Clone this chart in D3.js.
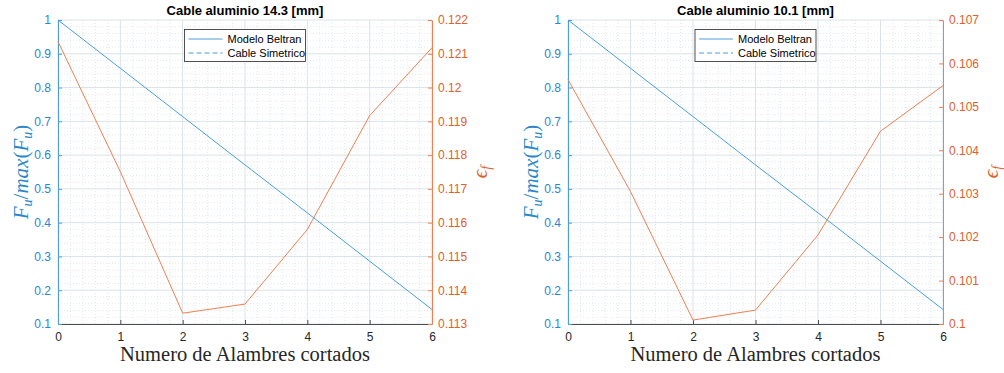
<!DOCTYPE html>
<html>
<head>
<meta charset="utf-8">
<script src="https://cdn.jsdelivr.net/npm/d3@7"></script>
<style>
  html, body { margin: 0; padding: 0; background: #fff; }
  svg { display: block; }
</style>
</head>
<body>
<svg id="chart" width="1004" height="373"></svg>
<script>
// ---- data ----
const titles = ["Cable aluminio 14.3 [mm]", "Cable aluminio 10.1 [mm]"];
const numeroCortados = [0, 1, 2, 3, 4, 5, 6];
const xTickLabels = [0, 1, 2, 3, 4, 5, 6];
const leftTicks = [0.1, 0.2, 0.3, 0.4, 0.5, 0.6, 0.7, 0.8, 0.9, 1];
const modeloBeltran143 = [1, 0.857, 0.714, 0.571, 0.429, 0.286, 0.143];
const modeloBeltran101 = [1, 0.857, 0.714, 0.571, 0.429, 0.286, 0.143];
const epsilon143 = [0.12136, 0.11751, 0.11332, 0.11359, 0.11580, 0.11917, 0.12118];
const epsilon101 = [0.10563, 0.10305, 0.10009, 0.10032, 0.10205, 0.10444, 0.10549];
const rightTicks143 = [0.113, 0.114, 0.115, 0.116, 0.117, 0.118, 0.119, 0.12, 0.121, 0.122];
const rightTicks101 = [0.1, 0.101, 0.102, 0.103, 0.104, 0.105, 0.106, 0.107];
const legendLabels = ["Modelo Beltran", "Cable Simetrico"];
const xLabel = "Numero de Alambres cortados";

const panels = [
  { title: titles[0], fu: modeloBeltran143, eps: epsilon143, rTicks: rightTicks143, x0: 58, x1: 432 },
  { title: titles[1], fu: modeloBeltran101, eps: epsilon101, rTicks: rightTicks101, x0: 568, x1: 943 }
];

const BLUE_LINE = "#4a9edb", BLUE_TXT = "#2a87cc";
const ORANGE_LINE = "#ee7f52", ORANGE_TXT = "#e0602c";
const AXIS_GRAY = "#4d4d4d";
const yTop = 20, yBot = 324;
const svg = d3.select("#chart");

panels.forEach(p => {
  const g = svg.append("g");
  const x = d3.scaleLinear().domain([0, 6]).range([p.x0, p.x1]);
  const yL = d3.scaleLinear().domain([0.1, 1]).range([yBot, yTop]);
  const yR = d3.scaleLinear().domain([p.rTicks[0], p.rTicks[p.rTicks.length - 1]]).range([yBot, yTop]);

  // minor grid
  const minorX = d3.range(0, 6.0001, 0.2).filter(v => Math.abs(v - Math.round(v)) > 1e-6);
  const minorY = d3.range(0.1, 1.0001, 0.02).filter(v => Math.abs(v * 10 - Math.round(v * 10)) > 1e-6);
  g.selectAll(".mgx").data(minorX).enter().append("line")
    .attr("x1", d => x(d)).attr("x2", d => x(d)).attr("y1", yTop).attr("y2", yBot)
    .attr("stroke", "#dbe3ea").attr("stroke-width", 0.8).attr("stroke-dasharray", "1,2");
  g.selectAll(".mgy").data(minorY).enter().append("line")
    .attr("x1", p.x0).attr("x2", p.x1).attr("y1", d => yL(d)).attr("y2", d => yL(d))
    .attr("stroke", "#dbe3ea").attr("stroke-width", 0.8).attr("stroke-dasharray", "1,2");
  // major grid
  g.selectAll(".gx").data(xTickLabels).enter().append("line")
    .attr("x1", d => x(d)).attr("x2", d => x(d)).attr("y1", yTop).attr("y2", yBot)
    .attr("stroke", "#dae3ea").attr("stroke-width", 1);
  g.selectAll(".gy").data(leftTicks).enter().append("line")
    .attr("x1", p.x0).attr("x2", p.x1).attr("y1", d => yL(d)).attr("y2", d => yL(d))
    .attr("stroke", "#dae3ea").attr("stroke-width", 1);

  // axes
  const fontTick = "12px 'Liberation Sans', Arial, sans-serif";
  const ax = g.append("g").attr("transform", `translate(0,${yBot})`)
    .call(d3.axisBottom(x).tickValues(xTickLabels).tickFormat(d3.format("d")).tickSizeInner(-4).tickSizeOuter(0).tickPadding(8));
  ax.select(".domain").attr("stroke", AXIS_GRAY);
  ax.selectAll(".tick line").attr("stroke", AXIS_GRAY);
  ax.selectAll("text").style("font", fontTick).attr("fill", "#262626");

  const axL = g.append("g").attr("transform", `translate(${p.x0},0)`)
    .call(d3.axisLeft(yL).tickValues(leftTicks).tickFormat(d3.format("~g")).tickSizeInner(-4).tickSizeOuter(0).tickPadding(7));
  axL.select(".domain").attr("stroke", BLUE_LINE);
  axL.selectAll(".tick line").attr("stroke", BLUE_LINE);
  axL.selectAll("text").style("font", fontTick).attr("fill", BLUE_TXT);

  const axR = g.append("g").attr("transform", `translate(${p.x1},0)`)
    .call(d3.axisRight(yR).tickValues(p.rTicks).tickFormat(d3.format("~g")).tickSizeInner(-4).tickSizeOuter(0).tickPadding(6));
  axR.select(".domain").attr("stroke", ORANGE_LINE);
  axR.selectAll(".tick line").attr("stroke", ORANGE_LINE);
  axR.selectAll("text").style("font", fontTick).attr("fill", ORANGE_TXT);

  // lines
  const lineL = d3.line().x((d, i) => x(numeroCortados[i])).y(d => yL(d));
  const lineR = d3.line().x((d, i) => x(numeroCortados[i])).y(d => yR(d));
  g.append("path").attr("d", lineR(p.eps)).attr("fill", "none").attr("stroke", ORANGE_LINE).attr("stroke-width", 1);
  g.append("path").attr("d", lineL(p.fu)).attr("fill", "none").attr("stroke", BLUE_LINE).attr("stroke-width", 1);

  // title
  const cx = (p.x0 + p.x1) / 2;
  g.append("text").attr("x", cx).attr("y", 15).attr("text-anchor", "middle")
    .style("font", "bold 13px 'Liberation Sans', Arial, sans-serif").attr("fill", "#000").text(p.title);

  // x label
  g.append("text").attr("x", cx).attr("y", 361).attr("text-anchor", "middle")
    .style("font", "20.5px 'Liberation Serif', 'DejaVu Serif', serif").attr("fill", "#262626").text(xLabel);

  // left y label
  const ylab = g.append("text").attr("transform", `translate(${p.x0 - 30},${(yTop + yBot) / 2}) rotate(-90)`)
    .attr("text-anchor", "middle")
    .style("font", "italic 21px 'Liberation Serif', 'DejaVu Serif', serif").attr("fill", BLUE_TXT);
  ylab.append("tspan").text("F");
  ylab.append("tspan").attr("dy", 4).style("font-size", "14px").text("u");
  ylab.append("tspan").attr("dy", -4).style("font-style", "normal").text("/");
  ylab.append("tspan").text("max");
  ylab.append("tspan").style("font-style", "normal").text("(");
  ylab.append("tspan").text("F");
  ylab.append("tspan").attr("dy", 4).style("font-size", "14px").text("u");
  ylab.append("tspan").attr("dy", -4).style("font-style", "normal").text(")");

  // right y label
  const rlab = g.append("text").attr("transform", `translate(${p.x1 + 55},${(yTop + yBot) / 2}) rotate(-90)`)
    .attr("text-anchor", "middle")
    .style("font", "italic 21px 'Liberation Serif', 'DejaVu Serif', serif").attr("fill", ORANGE_TXT);
  rlab.append("tspan").text("\u03F5");
  rlab.append("tspan").attr("dy", 4).style("font-size", "14px").text("f");

  // legend
  const lw = 121, lh = 32;
  const lx = cx - lw / 2, ly = 29.5;
  const leg = g.append("g");
  leg.append("rect").attr("x", lx).attr("y", ly).attr("width", lw).attr("height", lh)
    .attr("fill", "#fff").attr("stroke", "#262626").attr("stroke-width", 0.8);
  legendLabels.forEach((lab, i) => {
    const yy = ly + 9.5 + i * 14;
    leg.append("line").attr("x1", lx + 4).attr("x2", lx + 38).attr("y1", yy).attr("y2", yy)
      .attr("stroke", BLUE_LINE).attr("stroke-width", 1)
      .attr("stroke-dasharray", i === 1 ? "5,3" : null);
    leg.append("text").attr("x", lx + 43).attr("y", yy + 4)
      .style("font", "11px 'Liberation Sans', Arial, sans-serif").attr("fill", "#000").text(lab);
  });
});
</script>
</body>
</html>
